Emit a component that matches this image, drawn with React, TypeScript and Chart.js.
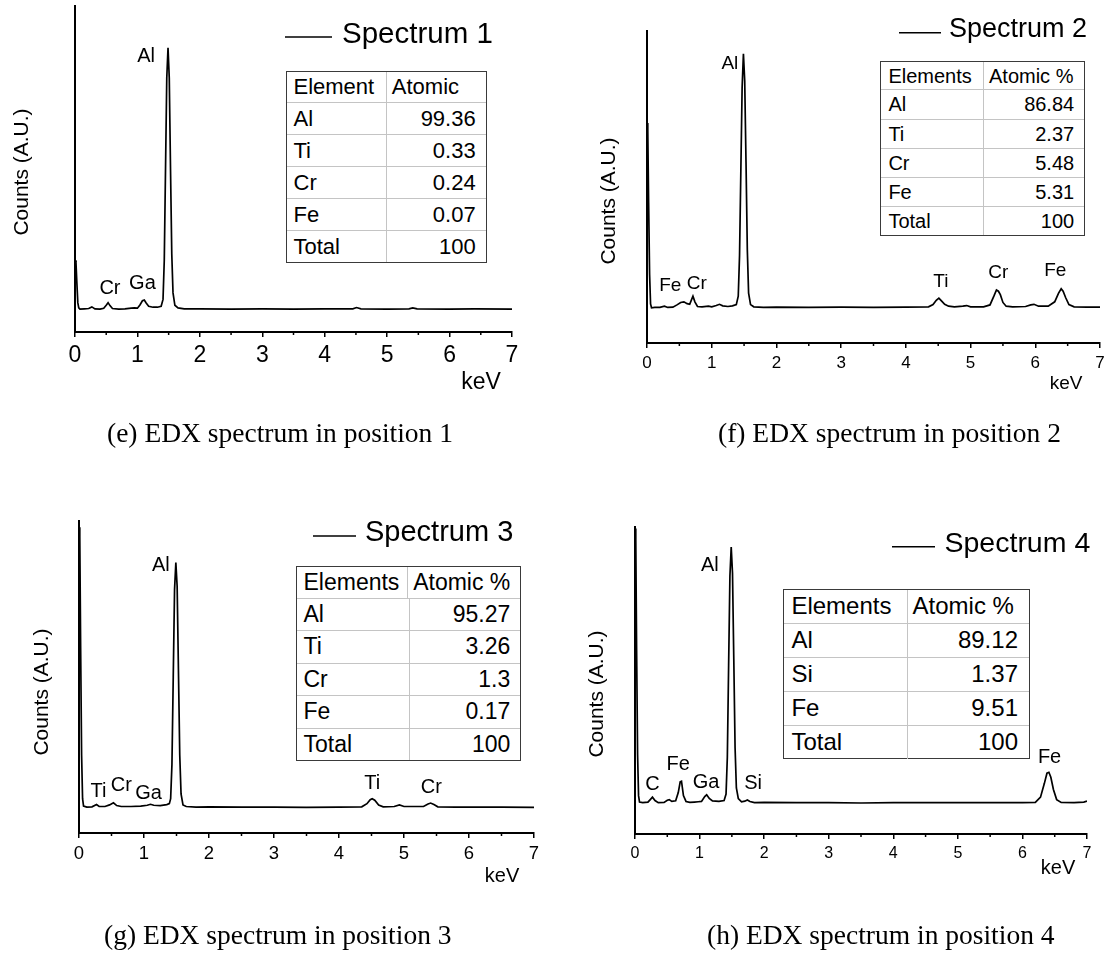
import React, { useEffect, useRef } from 'react';
import { Chart, registerables } from 'chart.js';

Chart.register(...registerables);

const SANS = '"Liberation Sans", Arial, Helvetica, sans-serif';
const SERIF = '"Liberation Serif", "Times New Roman", Times, serif';
const PAGE_W = 1107;
const PAGE_H = 961;

// ---------- Spectrum 1 (position 1) ----------
const energy1 = [0.0, 0.015, 0.03, 0.045, 0.06, 0.08, 0.15, 0.22, 0.27, 0.32, 0.4, 0.46, 0.5, 0.53, 0.56, 0.6, 0.7, 0.8, 0.9, 0.95, 1.0, 1.04, 1.08, 1.11, 1.14, 1.18, 1.25, 1.32, 1.38, 1.41, 1.43, 1.45, 1.47, 1.49, 1.51, 1.53, 1.55, 1.57, 1.6, 1.65, 1.75, 2.0, 2.5, 3.0, 3.5, 4.0, 4.45, 4.51, 4.58, 5.0, 5.35, 5.41, 5.48, 6.0, 6.4, 7.0];
const counts1 = [22.0, 21.5, 15.0, 9.0, 7.4, 7.0, 7.1, 7.2, 7.7, 7.1, 7.0, 7.3, 8.2, 9.0, 8.1, 7.2, 7.0, 7.1, 7.3, 7.4, 7.3, 8.3, 9.6, 9.8, 8.9, 7.9, 7.6, 7.6, 7.9, 10.0, 22.0, 50.0, 78.0, 87.2, 78.0, 50.0, 24.0, 12.0, 8.2, 7.4, 7.1, 7.1, 7.0, 7.1, 7.0, 7.1, 7.1, 7.5, 7.1, 7.0, 7.1, 7.4, 7.1, 7.0, 7.1, 7.0];
const peakNames1 = ['Al', 'Cr', 'Ga'];
const peakKeV1 = [1.14, 0.56, 1.08];
const peakLevel1 = [84.4, 13.2, 15.0];
const elements1 = ['Al', 'Ti', 'Cr', 'Fe', 'Total'];
const atomic1 = ['99.36', '0.33', '0.24', '0.07', '100'];

// ---------- Spectrum 2 (position 2) ----------
const energy2 = [0.0, 0.012, 0.025, 0.04, 0.055, 0.07, 0.12, 0.2, 0.27, 0.32, 0.4, 0.47, 0.52, 0.57, 0.62, 0.66, 0.69, 0.71, 0.74, 0.78, 0.85, 0.95, 1.0, 1.07, 1.12, 1.17, 1.25, 1.32, 1.38, 1.41, 1.43, 1.45, 1.47, 1.49, 1.51, 1.53, 1.55, 1.57, 1.6, 1.65, 1.8, 2.0, 2.5, 3.0, 3.5, 4.0, 4.35, 4.42, 4.47, 4.51, 4.55, 4.6, 4.66, 4.75, 4.88, 4.94, 5.0, 5.2, 5.3, 5.36, 5.4, 5.43, 5.46, 5.5, 5.55, 5.65, 5.85, 5.93, 5.98, 6.05, 6.2, 6.3, 6.36, 6.4, 6.43, 6.47, 6.52, 6.6, 6.8, 7.0];
const counts2 = [70.5, 68.0, 45.0, 22.0, 12.5, 11.3, 11.4, 11.4, 11.8, 11.4, 11.5, 12.3, 13.0, 13.2, 12.6, 12.4, 14.0, 15.0, 13.2, 11.7, 11.6, 11.8, 11.6, 12.0, 12.4, 11.9, 11.7, 11.9, 12.3, 15.0, 28.0, 55.0, 82.0, 92.7, 84.0, 58.0, 30.0, 16.0, 12.3, 11.6, 11.4, 11.5, 11.4, 11.5, 11.4, 11.5, 11.6, 12.3, 13.7, 14.4, 13.5, 12.4, 11.8, 11.6, 11.8, 12.0, 11.6, 11.6, 12.2, 15.0, 17.0, 16.6, 15.5, 13.0, 11.8, 11.6, 11.7, 12.2, 12.4, 11.8, 11.8, 13.2, 16.0, 17.4, 16.6, 14.5, 12.3, 11.6, 11.5, 11.5];
const peakNames2 = ['Al', 'Fe', 'Cr', 'Ti', 'Cr', 'Fe'];
const peakKeV2 = [1.28, 0.36, 0.77, 4.54, 5.43, 6.31];
const peakLevel2 = [89.6, 18.2, 19.1, 19.5, 22.4, 23.3];
const elements2 = ['Al', 'Ti', 'Cr', 'Fe', 'Total'];
const atomic2 = ['86.84', '2.37', '5.48', '5.31', '100'];

// ---------- Spectrum 3 (position 3) ----------
const energy3 = [0.0, 0.012, 0.025, 0.04, 0.055, 0.07, 0.12, 0.2, 0.27, 0.31, 0.4, 0.47, 0.53, 0.58, 0.65, 0.8, 0.95, 1.05, 1.1, 1.15, 1.25, 1.35, 1.39, 1.41, 1.43, 1.45, 1.47, 1.49, 1.51, 1.53, 1.55, 1.57, 1.6, 1.65, 1.8, 2.0, 2.5, 3.0, 3.5, 4.0, 4.35, 4.43, 4.48, 4.51, 4.55, 4.61, 4.68, 4.85, 4.93, 5.0, 5.3, 5.37, 5.41, 5.46, 5.52, 5.8, 6.2, 6.5, 7.0];
const counts3 = [98.0, 95.0, 60.0, 25.0, 11.0, 8.6, 8.3, 8.4, 9.1, 8.5, 8.5, 9.0, 9.7, 8.8, 8.5, 8.5, 8.6, 8.9, 9.2, 8.9, 8.8, 9.1, 9.4, 11.0, 22.0, 50.0, 78.0, 86.7, 79.0, 52.0, 25.0, 12.5, 9.0, 8.5, 8.3, 8.4, 8.3, 8.3, 8.2, 8.3, 8.4, 9.4, 10.7, 11.0, 10.5, 9.0, 8.4, 8.5, 9.0, 8.5, 8.5, 9.3, 9.6, 9.1, 8.4, 8.3, 8.3, 8.3, 8.2];
const peakNames3 = ['Al', 'Ti', 'Cr', 'Ga', 'Ti', 'Cr'];
const peakKeV3 = [1.26, 0.3, 0.65, 1.07, 4.51, 5.42];
const peakLevel3 = [85.8, 13.4, 15.3, 12.8, 15.9, 14.7];
const elements3 = ['Al', 'Ti', 'Cr', 'Fe', 'Total'];
const atomic3 = ['95.27', '3.26', '1.3', '0.17', '100'];

// ---------- Spectrum 4 (position 4) ----------
const energy4 = [0.0, 0.012, 0.025, 0.04, 0.055, 0.07, 0.12, 0.2, 0.24, 0.27, 0.31, 0.36, 0.45, 0.5, 0.53, 0.57, 0.63, 0.67, 0.7, 0.72, 0.75, 0.79, 0.85, 0.92, 0.98, 1.03, 1.08, 1.11, 1.15, 1.2, 1.3, 1.38, 1.41, 1.43, 1.45, 1.47, 1.49, 1.51, 1.53, 1.55, 1.57, 1.6, 1.65, 1.7, 1.74, 1.78, 1.85, 2.0, 2.5, 3.0, 3.5, 4.0, 4.5, 5.0, 5.5, 6.0, 6.2, 6.28, 6.34, 6.38, 6.41, 6.44, 6.48, 6.53, 6.6, 6.8, 6.95, 7.0];
const counts4 = [99.5, 96.0, 60.0, 26.0, 12.5, 10.4, 10.2, 10.4, 11.3, 12.0, 10.9, 10.2, 10.3, 11.0, 11.2, 10.6, 10.8, 13.5, 17.0, 17.2, 12.5, 10.6, 10.3, 10.4, 10.5, 10.6, 12.2, 12.8, 11.6, 10.8, 10.6, 10.9, 13.0, 25.0, 55.0, 84.0, 93.5, 85.0, 57.0, 28.0, 15.0, 11.5, 10.5, 10.7, 11.1, 10.6, 10.2, 10.3, 10.2, 10.2, 10.1, 10.2, 10.2, 10.2, 10.2, 10.2, 10.3, 12.0, 16.5, 19.8, 20.1, 18.5, 14.5, 11.2, 10.3, 10.2, 10.4, 10.7];
const peakNames4 = ['Al', 'C', 'Fe', 'Ga', 'Si', 'Fe'];
const peakKeV4 = [1.16, 0.27, 0.67, 1.1, 1.83, 6.42];
const peakLevel4 = [87.5, 16.1, 22.7, 16.9, 16.4, 24.8];
const elements4 = ['Al', 'Si', 'Fe', 'Total'];
const atomic4 = ['89.12', '1.37', '9.51', '100'];

// Axis ticks
const majorTicks = [0, 1, 2, 3, 4, 5, 6, 7];
const minorTicks = [0.5, 1.5, 2.5, 3.5, 4.5, 5.5, 6.5];

type Panel = {
  plot: { L: number; T: number; R: number; B: number };
  tickFont: number;
  peakFont: number;
  kev: { x: number; y: number; size: number };
  yTitle: { x: number; y: number; size: number };
  legend: { x1: number; x2: number; y: number; tx: number; ty: number; size: number; text: string };
  table: { x: number; y: number; w: number; h: number; col: number; font: number; padR: number };
  header: [string, string];
  caption: { text: string; x: number; y: number };
  energy: number[];
  counts: number[];
  peakNames: string[];
  peakKeV: number[];
  peakLevel: number[];
  elements: string[];
  atomic: string[];
};

const panels: Panel[] = [
  {
    plot: { L: 75, T: 6, R: 512, B: 332 },
    tickFont: 23,
    peakFont: 20,
    kev: { x: 481, y: 383, size: 23 },
    yTitle: { x: 22.5, y: 172, size: 21 },
    legend: { x1: 285, x2: 332, y: 37, tx: 342, ty: 35, size: 29.5, text: 'Spectrum 1' },
    table: { x: 285.5, y: 70.7, w: 201.2, h: 192, col: 100.3, font: 22, padR: 10 },
    header: ['Element', 'Atomic'],
    caption: { text: '(e) EDX spectrum in position 1', x: 107, y: 433 },
    energy: energy1,
    counts: counts1,
    peakNames: peakNames1,
    peakKeV: peakKeV1,
    peakLevel: peakLevel1,
    elements: elements1,
    atomic: atomic1,
  },
  {
    plot: { L: 647, T: 31, R: 1100, B: 343 },
    tickFont: 17,
    peakFont: 19,
    kev: { x: 1066, y: 383.5, size: 19 },
    yTitle: { x: 609, y: 201, size: 21 },
    legend: { x1: 899, x2: 941, y: 32.7, tx: 949, ty: 30, size: 27, text: 'Spectrum 2' },
    table: { x: 880.4, y: 60.7, w: 204.8, h: 175, col: 102.6, font: 20, padR: 10 },
    header: ['Elements', 'Atomic %'],
    caption: { text: '(f) EDX spectrum in position 2', x: 718, y: 433 },
    energy: energy2,
    counts: counts2,
    peakNames: peakNames2,
    peakKeV: peakKeV2,
    peakLevel: peakLevel2,
    elements: elements2,
    atomic: atomic2,
  },
  {
    plot: { L: 79, T: 521, R: 534, B: 833 },
    tickFont: 18.5,
    peakFont: 20,
    kev: { x: 502, y: 876, size: 20 },
    yTitle: { x: 42.5, y: 692, size: 21 },
    legend: { x1: 313, x2: 356, y: 536, tx: 365, ty: 533, size: 29, text: 'Spectrum 3' },
    table: { x: 295.5, y: 565.7, w: 225.8, h: 195, col: 113.1, font: 23, padR: 10 },
    header: ['Elements', 'Atomic %'],
    caption: { text: '(g) EDX spectrum in position 3', x: 104, y: 935 },
    energy: energy3,
    counts: counts3,
    peakNames: peakNames3,
    peakKeV: peakKeV3,
    peakLevel: peakLevel3,
    elements: elements3,
    atomic: atomic3,
  },
  {
    plot: { L: 635, T: 527, R: 1087, B: 834 },
    tickFont: 16,
    peakFont: 20,
    kev: { x: 1058, y: 868, size: 20 },
    yTitle: { x: 597.5, y: 694, size: 21 },
    legend: { x1: 892, x2: 935, y: 546.7, tx: 944.5, ty: 544, size: 28.5, text: 'Spectrum 4' },
    table: { x: 783.4, y: 589, w: 246.6, h: 170.3, col: 123.2, font: 24, padR: 11 },
    header: ['Elements', 'Atomic %'],
    caption: { text: '(h) EDX spectrum in position 4', x: 707, y: 935 },
    energy: energy4,
    counts: counts4,
    peakNames: peakNames4,
    peakKeV: peakKeV4,
    peakLevel: peakLevel4,
    elements: elements4,
    atomic: atomic4,
  },
];

// Draws minor ticks, peak labels, legend entry and axis captions for one spectrum.
function makeDecorations(p: Panel) {
  return {
    id: 'spectrumDecorations',
    afterDatasetsDraw(chart: any) {
      const { ctx, chartArea } = chart;
      const x = chart.scales.x;
      const y = chart.scales.y;
      ctx.save();

      ctx.strokeStyle = '#000';
      ctx.lineWidth = 1.5;
      minorTicks.forEach((v) => {
        const px = x.getPixelForValue(v);
        ctx.beginPath();
        ctx.moveTo(px, chartArea.bottom);
        ctx.lineTo(px, chartArea.bottom + 3);
        ctx.stroke();
      });

      ctx.fillStyle = '#000';
      ctx.textAlign = 'center';
      ctx.textBaseline = 'middle';
      ctx.font = `${p.peakFont}px ${SANS}`;
      p.peakNames.forEach((name, i) => {
        ctx.fillText(name, x.getPixelForValue(p.peakKeV[i]), y.getPixelForValue(p.peakLevel[i]));
      });

      ctx.font = `${p.kev.size}px ${SANS}`;
      ctx.fillText('keV', p.kev.x, p.kev.y);

      ctx.save();
      ctx.translate(p.yTitle.x, p.yTitle.y);
      ctx.rotate(-Math.PI / 2);
      ctx.font = `${p.yTitle.size}px ${SANS}`;
      ctx.fillText('Counts (A.U.)', 0, 0);
      ctx.restore();

      ctx.lineWidth = 1.6;
      ctx.beginPath();
      ctx.moveTo(p.legend.x1, p.legend.y);
      ctx.lineTo(p.legend.x2, p.legend.y);
      ctx.stroke();
      ctx.textAlign = 'left';
      ctx.font = `${p.legend.size}px ${SANS}`;
      ctx.fillText(p.legend.text, p.legend.tx, p.legend.ty);

      ctx.restore();
    },
  };
}

function SpectrumChart({ panel }: { panel: Panel }) {
  const ref = useRef<HTMLCanvasElement | null>(null);
  useEffect(() => {
    if (!ref.current) return;
    const { L, T, R, B } = panel.plot;
    const xAxisHeight = 40;
    const yAxisWidth = 10;
    const chart = new Chart(ref.current, {
      type: 'line',
      data: {
        datasets: [
          {
            data: panel.energy.map((e, i) => ({ x: e, y: panel.counts[i] })),
            borderColor: '#000',
            borderWidth: 1.7,
            pointRadius: 0,
            tension: 0,
            fill: false,
          },
        ],
      },
      options: {
        responsive: false,
        animation: false,
        events: [],
        layout: {
          padding: {
            left: L - yAxisWidth,
            top: T,
            right: PAGE_W - R,
            bottom: PAGE_H - B - xAxisHeight,
          },
        },
        plugins: {
          legend: { display: false },
          tooltip: { enabled: false },
          title: { display: false },
        },
        scales: {
          x: {
            type: 'linear',
            min: 0,
            max: 7,
            afterBuildTicks: (s: any) => {
              s.ticks = majorTicks.map((v) => ({ value: v }));
            },
            afterFit: (s: any) => {
              s.height = xAxisHeight;
              s.paddingLeft = 0;
              s.paddingRight = 0;
            },
            ticks: {
              color: '#000',
              padding: 5,
              maxRotation: 0,
              autoSkip: false,
              font: { size: panel.tickFont, family: SANS },
              callback: (v: any) => String(v),
            },
            grid: {
              drawOnChartArea: false,
              drawTicks: true,
              tickLength: 5,
              color: '#000',
              lineWidth: 1.5,
            },
            border: { color: '#000', width: 2 },
          },
          y: {
            type: 'linear',
            min: 0,
            max: 100,
            afterFit: (s: any) => {
              s.width = yAxisWidth;
              s.paddingTop = 0;
              s.paddingBottom = 0;
            },
            ticks: { display: false },
            grid: { drawOnChartArea: false, drawTicks: false },
            border: { color: '#000', width: 2 },
          },
        },
      },
      plugins: [makeDecorations(panel)],
    });
    return () => chart.destroy();
  }, [panel]);
  return (
    <canvas
      ref={ref}
      width={PAGE_W}
      height={PAGE_H}
      style={{ position: 'absolute', left: 0, top: 0, width: PAGE_W, height: PAGE_H }}
    />
  );
}

function CompositionTable({ panel }: { panel: Panel }) {
  const t = panel.table;
  const rows: [string, string][] = [panel.header, ...panel.elements.map((e, i) => [e, panel.atomic[i]] as [string, string])];
  const rowH = t.h / rows.length;
  return (
    <div
      style={{
        position: 'absolute',
        left: t.x,
        top: t.y,
        width: t.w,
        height: t.h,
        border: '1.5px solid #3a3a3a',
        boxSizing: 'border-box',
        background: '#fff',
        fontFamily: SANS,
        fontSize: t.font,
        color: '#000',
      }}
    >
      {rows.map((r, i) => (
        <div
          key={i}
          style={{
            display: 'flex',
            height: rowH - (i === 0 ? 1.5 : 0),
            borderTop: i ? '1.5px solid #c4c4c4' : 'none',
            boxSizing: 'border-box',
            lineHeight: 1,
          }}
        >
          <div
            style={{
              width: t.col,
              borderRight: '1.5px solid #c4c4c4',
              boxSizing: 'border-box',
              display: 'flex',
              alignItems: 'center',
              paddingLeft: 7,
              whiteSpace: 'nowrap',
            }}
          >
            {r[0]}
          </div>
          <div
            style={{
              flex: 1,
              display: 'flex',
              alignItems: 'center',
              justifyContent: i === 0 ? 'flex-start' : 'flex-end',
              paddingLeft: 5,
              paddingRight: t.padR,
              whiteSpace: 'nowrap',
            }}
          >
            {r[1]}
          </div>
        </div>
      ))}
    </div>
  );
}

export default function App() {
  return (
    <div
      style={{
        position: 'absolute',
        left: 0,
        top: 0,
        width: PAGE_W,
        height: PAGE_H,
        background: '#fff',
        overflow: 'hidden',
      }}
    >
      {panels.map((p, i) => (
        <SpectrumChart key={`c${i}`} panel={p} />
      ))}
      {panels.map((p, i) => (
        <CompositionTable key={`t${i}`} panel={p} />
      ))}
      {panels.map((p, i) => (
        <div
          key={`cap${i}`}
          style={{
            position: 'absolute',
            left: p.caption.x,
            top: p.caption.y - 14,
            fontFamily: SERIF,
            fontSize: 27.5,
            lineHeight: '28px',
            color: '#000',
            whiteSpace: 'nowrap',
          }}
        >
          {p.caption.text}
        </div>
      ))}
    </div>
  );
}
